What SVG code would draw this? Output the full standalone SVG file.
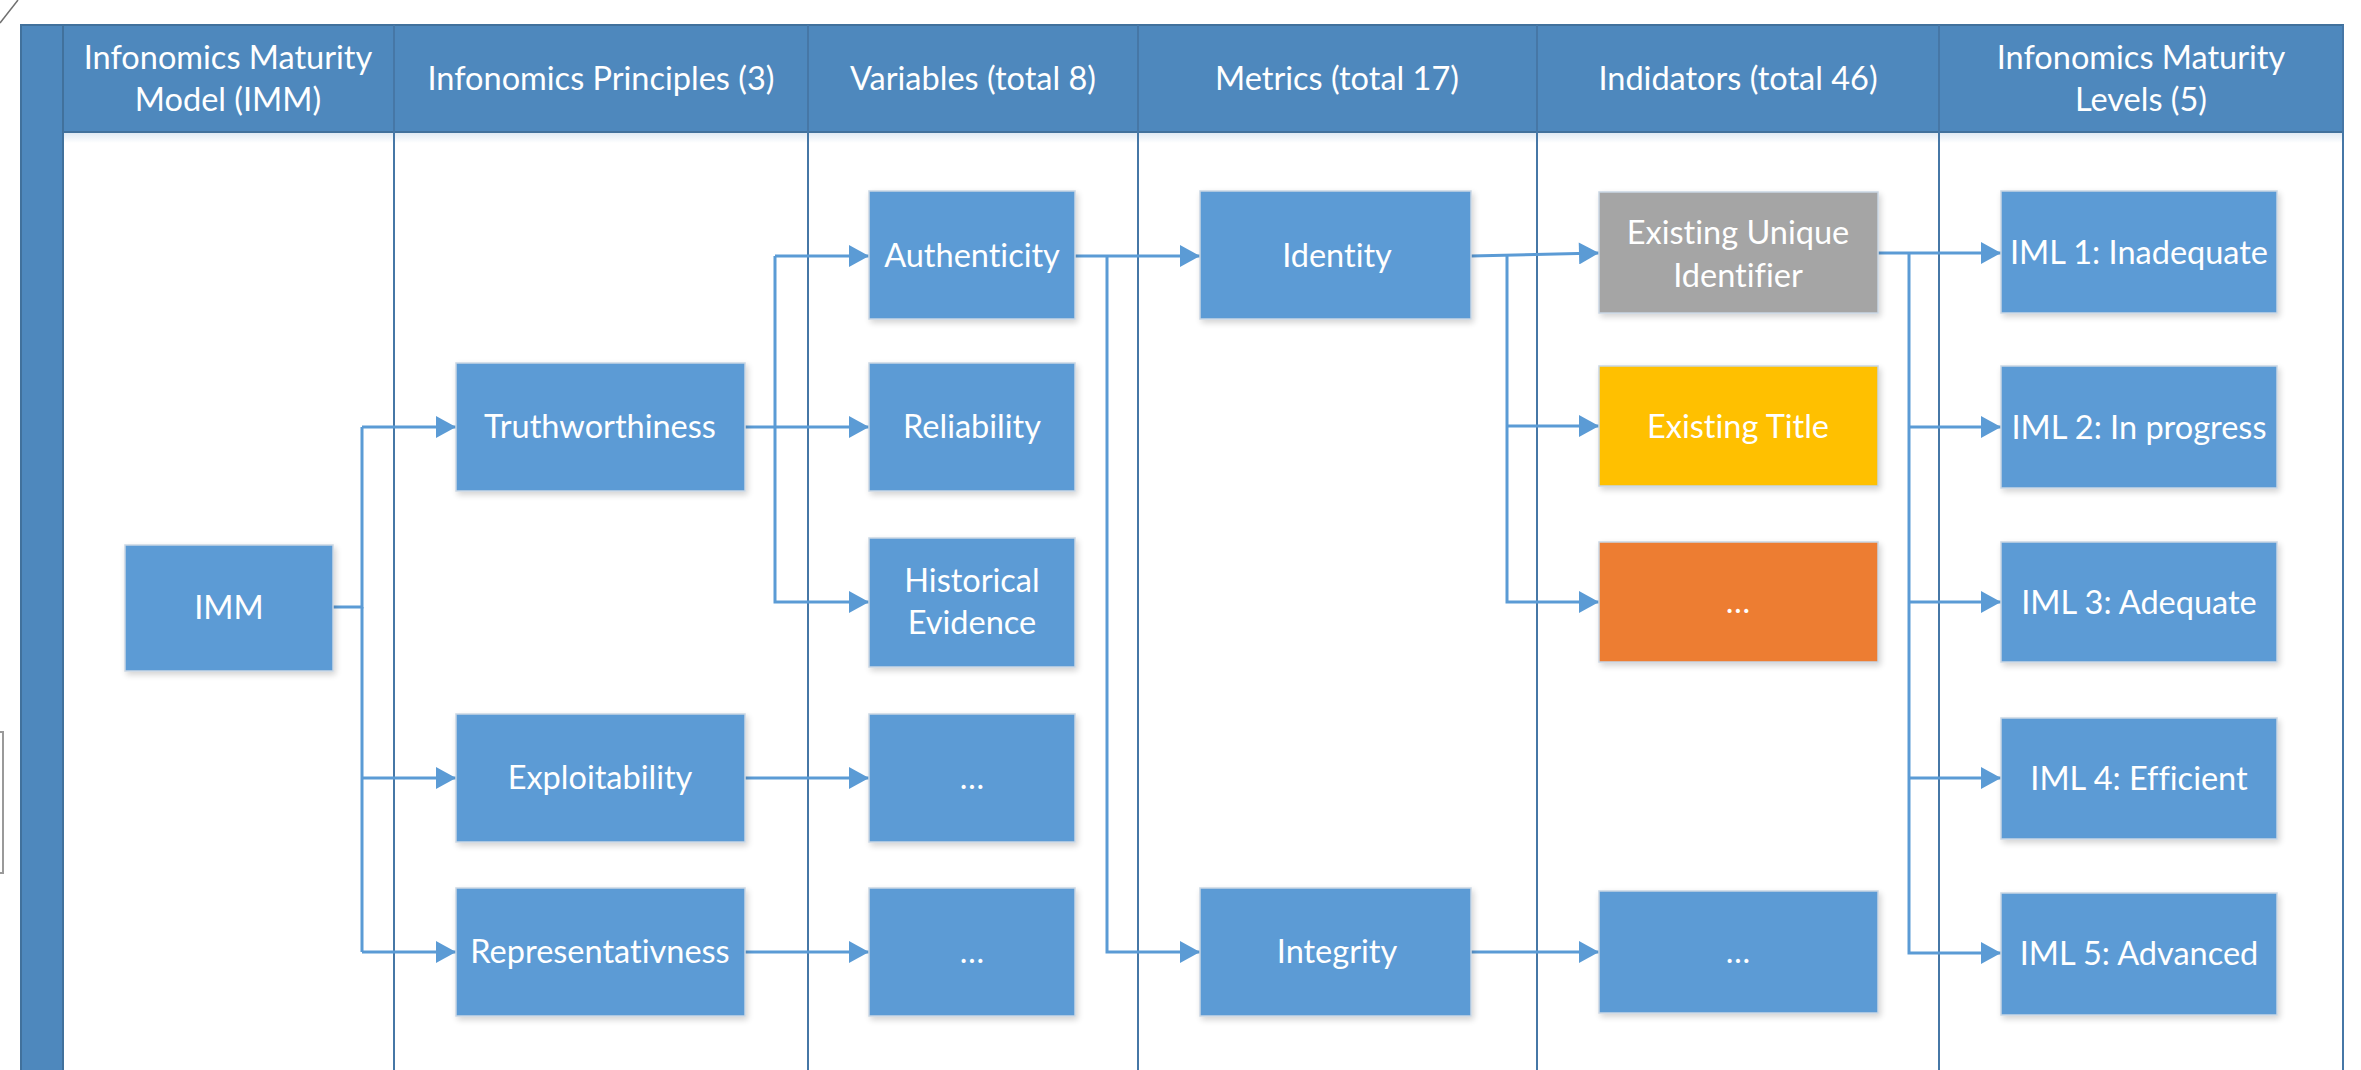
<svg xmlns="http://www.w3.org/2000/svg" width="2361" height="1070" viewBox="0 0 2361 1070">
<style>
.hdr{fill:#4e88bd;stroke:#41719c;stroke-width:2}
.sep{stroke:#4677a6;stroke-width:2;fill:none}
.node rect{stroke:#c9d6e3;stroke-width:1.5;filter:url(#sh)}
.blue{fill:#5b9bd5}
.gray{fill:#a5a5a5}
.yel{fill:#ffc000}
.ora{fill:#ed7d31}
text{font-family:Lato,"Liberation Sans",sans-serif;font-size:32.5px;fill:#ffffff;text-anchor:middle;font-variant-ligatures:none}
.conn path{fill:none;stroke:#5b9bd5;stroke-width:3}
.arr{marker-end:url(#ah)}
</style>
<defs>
<marker id="ah" markerUnits="userSpaceOnUse" markerWidth="22" markerHeight="22" viewBox="0 0 20 22" refX="20" refY="11" orient="auto">
<path d="M0,0 L20,11 L0,22 Z" fill="#5b9bd5"/>
</marker>
<filter id="sh" x="-10%" y="-10%" width="125%" height="130%">
<feGaussianBlur in="SourceAlpha" stdDeviation="3"/>
<feOffset dx="2" dy="3" result="b"/>
<feComponentTransfer><feFuncA type="linear" slope="0.18"/></feComponentTransfer>
<feMerge><feMergeNode/><feMergeNode in="SourceGraphic"/></feMerge>
</filter>
<linearGradient id="hs" x1="0" y1="0" x2="0" y2="1">
<stop offset="0" stop-color="#4e88bd" stop-opacity="0.18"/>
<stop offset="1" stop-color="#4e88bd" stop-opacity="0"/>
</linearGradient>
</defs>
<rect width="2361" height="1070" fill="#ffffff"/>
<!-- stray marks at the left edge -->
<line x1="0" y1="23" x2="18" y2="0" stroke="#707070" stroke-width="1.5"/>
<rect x="-4" y="732" width="7" height="141" fill="none" stroke="#9a9a9a" stroke-width="2"/>

<g id="frame">
<rect x="21" y="25" width="42" height="1050" class="hdr"/>
<rect x="63" y="25" width="2280" height="107" class="hdr"/>
<rect x="63" y="133" width="2280" height="10" fill="url(#hs)"/>
<line class="sep" x1="2343" y1="25" x2="2343" y2="1070"/>
<line class="sep" x1="394" y1="25" x2="394" y2="1070"/>
<line class="sep" x1="808" y1="25" x2="808" y2="1070"/>
<line class="sep" x1="1138" y1="25" x2="1138" y2="1070"/>
<line class="sep" x1="1537" y1="25" x2="1537" y2="1070"/>
<line class="sep" x1="1939" y1="25" x2="1939" y2="1070"/>
<text x="228" y="69">Infonomics Maturity</text>
<text x="228" y="111">Model (IMM)</text>
<text x="601" y="90">Infonomics Principles (3)</text>
<text x="973" y="90">Variables (total 8)</text>
<text x="1337" y="90">Metrics (total 17)</text>
<text x="1738" y="90">Indidators (total 46)</text>
<text x="2141" y="69">Infonomics Maturity</text>
<text x="2141" y="111">Levels (5)</text>
</g>

<g id="connectors" class="conn">
<path d="M333,607 H362 V427"/>
<path class="arr" d="M362,427 H456"/>
<path d="M362,607 V952"/>
<path class="arr" d="M362,778 H456"/>
<path class="arr" d="M362,952 H456"/>
<path d="M745,427 H775"/>
<path class="arr" d="M775,256 V602 H869"/>
<path class="arr" d="M775,256 H869"/>
<path class="arr" d="M775,427 H869"/>
<path class="arr" d="M745,778 H869"/>
<path class="arr" d="M745,952 H869"/>
<path class="arr" d="M1075,256 H1200"/>
<path class="arr" d="M1107,256 V952 H1200"/>
<path class="arr" d="M1471,256 L1599,253"/>
<path class="arr" d="M1507,256 V602 H1599"/>
<path class="arr" d="M1507,426 H1599"/>
<path class="arr" d="M1471,952 H1599"/>
<path d="M1878,253 H1909"/>
<path class="arr" d="M1909,253 H2001"/>
<path class="arr" d="M1909,253 V953 H2001"/>
<path class="arr" d="M1909,427 H2001"/>
<path class="arr" d="M1909,602 H2001"/>
<path class="arr" d="M1909,778 H2001"/>
</g>

<g id="n-imm" class="node"><rect class="blue" x="125" y="545" width="208" height="126"/><text x="229" y="619">IMM</text></g>
<g id="n-truth" class="node"><rect class="blue" x="456" y="363" width="289" height="128"/><text x="600" y="438">Truthworthiness</text></g>
<g id="n-exploit" class="node"><rect class="blue" x="456" y="714" width="289" height="128"/><text x="600" y="789">Exploitability</text></g>
<g id="n-repr" class="node"><rect class="blue" x="456" y="888" width="289" height="128"/><text x="600" y="963">Representativness</text></g>

<g id="n-auth" class="node"><rect class="blue" x="869" y="191" width="206" height="128"/><text x="972" y="267">Authenticity</text></g>
<g id="n-rel" class="node"><rect class="blue" x="869" y="363" width="206" height="128"/><text x="972" y="438">Reliability</text></g>
<g id="n-hist" class="node"><rect class="blue" x="869" y="538" width="206" height="129"/><text x="972" y="592">Historical</text><text x="972" y="634">Evidence</text></g>
<g id="n-var4" class="node"><rect class="blue" x="869" y="714" width="206" height="128"/><text x="972" y="789">…</text></g>
<g id="n-var5" class="node"><rect class="blue" x="869" y="888" width="206" height="128"/><text x="972" y="963">…</text></g>

<g id="n-identity" class="node"><rect class="blue" x="1200" y="191" width="271" height="128"/><text x="1337" y="267">Identity</text></g>
<g id="n-integrity" class="node"><rect class="blue" x="1200" y="888" width="271" height="128"/><text x="1337" y="963">Integrity</text></g>

<g id="n-eui" class="node"><rect class="gray" x="1599" y="192" width="279" height="121"/><text x="1738" y="244">Existing Unique</text><text x="1738" y="287">Identifier</text></g>
<g id="n-title" class="node"><rect class="yel" x="1599" y="366" width="279" height="120"/><text x="1738" y="438">Existing Title</text></g>
<g id="n-ind3" class="node"><rect class="ora" x="1599" y="542" width="279" height="120"/><text x="1738" y="613">…</text></g>
<g id="n-ind4" class="node"><rect class="blue" x="1599" y="891" width="279" height="122"/><text x="1738" y="963">…</text></g>

<g id="n-iml1" class="node"><rect class="blue" x="2001" y="191" width="276" height="122"/><text x="2139" y="264">IML 1: Inadequate</text></g>
<g id="n-iml2" class="node"><rect class="blue" x="2001" y="366" width="276" height="122"/><text x="2139" y="439">IML 2: In progress</text></g>
<g id="n-iml3" class="node"><rect class="blue" x="2001" y="542" width="276" height="120"/><text x="2139" y="614">IML 3: Adequate</text></g>
<g id="n-iml4" class="node"><rect class="blue" x="2001" y="718" width="276" height="121"/><text x="2139" y="790">IML 4: Efficient</text></g>
<g id="n-iml5" class="node"><rect class="blue" x="2001" y="893" width="276" height="122"/><text x="2139" y="965">IML 5: Advanced</text></g>
</svg>
